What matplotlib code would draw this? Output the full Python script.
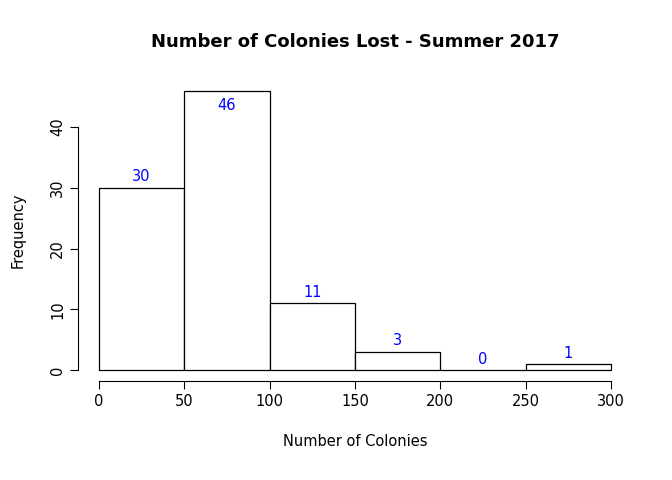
import matplotlib
matplotlib.use("Agg")
import matplotlib.pyplot as plt

bin_edges = [0, 50, 100, 150, 200, 250, 300]
counts = [30, 46, 11, 3, 0, 1]
x_ticks = [0, 50, 100, 150, 200, 250, 300]
y_ticks = [0, 10, 20, 30, 40]

fig = plt.figure(figsize=(6.72, 4.8), dpi=100)
ax = fig.add_axes([0.1168, 0.2058, 0.8229, 0.6288])
for i, c in enumerate(counts):
    ax.bar(bin_edges[i], c, width=bin_edges[i+1]-bin_edges[i], align='edge',
           facecolor='white', edgecolor='black', linewidth=0.9)
ylim = (-1.84, 47.84)
ax.set_xlim(-12, 312)
ax.set_ylim(*ylim)
for i, c in enumerate(counts):
    xc = (bin_edges[i] + bin_edges[i+1]) / 2
    yl = c + 1.8
    if yl > ylim[1] - 1:
        yl = c - 2.4
    ax.text(xc, yl, str(c), color='blue', ha='center', va='center', fontsize=10.5)
for s in ['top', 'right']:
    ax.spines[s].set_visible(False)
ax.spines['left'].set_bounds(0, 40)
ax.spines['bottom'].set_bounds(0, 300)
ax.set_xticks(x_ticks)
ax.set_yticks(y_ticks)
ax.tick_params(axis='y', labelrotation=90, labelsize=10.5, length=6)
ax.tick_params(axis='x', labelsize=10.5, length=6)
for l in ax.get_yticklabels():
    l.set_va('center')
ax.set_xlabel("Number of Colonies", fontsize=10.5, labelpad=18)
ax.set_ylabel("Frequency", fontsize=10.5, labelpad=18)
fig.text(0.528, 0.912, "Number of Colonies Lost - Summer 2017", ha='center', va='center',
         fontsize=13, fontweight='bold')
fig.savefig("out.png", dpi=100)
